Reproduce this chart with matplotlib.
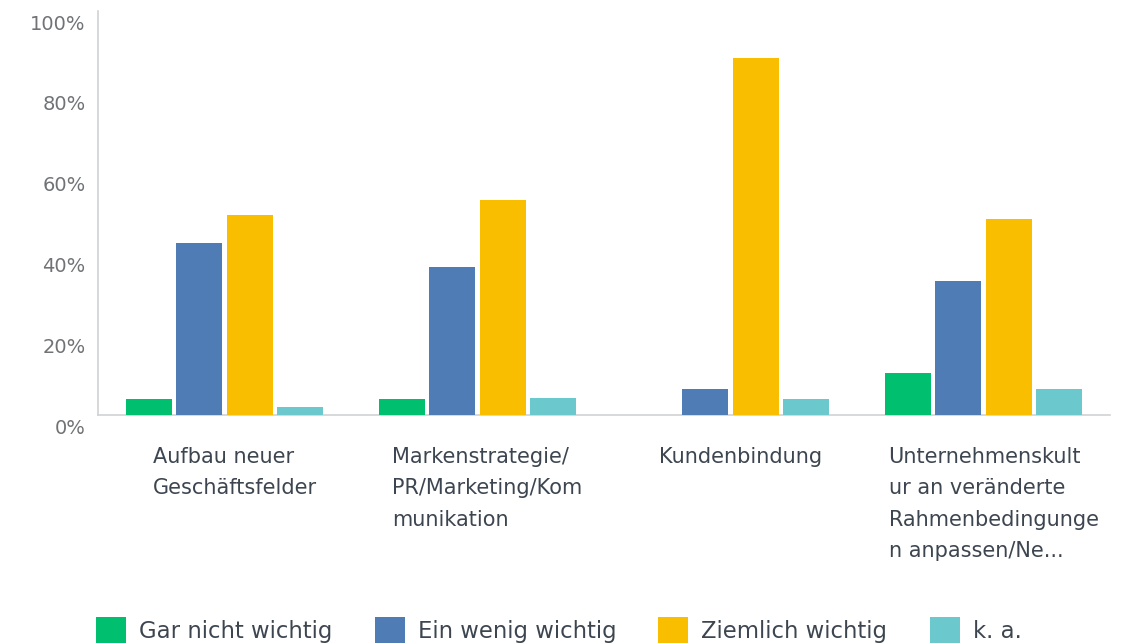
import numpy as np
import matplotlib
matplotlib.use("Agg")
import matplotlib.pyplot as plt
from matplotlib.patches import Patch
from matplotlib.transforms import ScaledTranslation

# data
categories = [
    "Aufbau neuer\nGeschäftsfelder",
    "Markenstrategie/\nPR/Marketing/Kom\nmunikation",
    "Kundenbindung",
    "Unternehmenskult\nur an veränderte\nRahmenbedingunge\nn anpassen/Ne...",
]
series_names = ["Gar nicht wichtig", "Ein wenig wichtig", "Ziemlich wichtig", "k. a."]
gar_nicht = [4.0, 4.0, 0.0, 10.5]
ein_wenig = [42.5, 36.6, 6.4, 33.2]
ziemlich = [49.5, 53.2, 88.4, 48.5]
k_a = [2.0, 4.3, 4.0, 6.4]
colors = ["#00BF6F", "#507CB6", "#F9BE00", "#6BC8CD"]
yticks = [0, 20, 40, 60, 80, 100]

plt.rcParams['font.family'] = ['DejaVu Sans']

fig = plt.figure(figsize=(11.25, 6.44), dpi=100)
ax = fig.add_axes([98 / 1125, 1 - 415 / 644, 1012 / 1125, 404 / 644])

x = np.arange(len(categories))
slot = 0.2
width = 0.182
values = [gar_nicht, ein_wenig, ziemlich, k_a]
for i, (vals, col) in enumerate(zip(values, colors)):
    ax.bar(x + (i - 1.5) * slot, vals, width=width, color=col, zorder=3)

ax.set_xlim(-0.5, len(categories) - 0.5)
ax.set_ylim(0, 100)
ax.set_yticks(yticks)
ax.set_yticklabels([f"{v}%" for v in yticks], fontsize=14, color="#707376")
ax.tick_params(axis='y', length=0, pad=9)
# labels sit a little below their value, as in the reference
off = ScaledTranslation(0, -0.11, fig.dpi_scale_trans)
for lab in ax.get_yticklabels():
    lab.set_transform(lab.get_transform() + off)

ax.set_xticks([])
for i, name in enumerate(categories):
    ax.text(x[i] + 0.04, -0.078, name, transform=ax.get_xaxis_transform(),
            ha='center', va='top', multialignment='left', fontsize=15,
            color="#3d4650", linespacing=1.72)

for s in ['top', 'right']:
    ax.spines[s].set_visible(False)
for s in ['left', 'bottom']:
    ax.spines[s].set_color("#d0d2d3")
    ax.spines[s].set_linewidth(1.2)

handles = [Patch(facecolor=c, edgecolor='none') for c in colors]
fig.legend(handles, series_names, loc='center left', ncol=4,
           bbox_to_anchor=(96 / 1125, 1 - 630 / 644), frameon=False,
           fontsize=16.4, handlelength=1.32, handleheight=1.32,
           handletextpad=0.57, columnspacing=1.85, borderpad=0, borderaxespad=0,
           labelcolor="#3d4650")

fig.savefig("out.png", dpi=100)
